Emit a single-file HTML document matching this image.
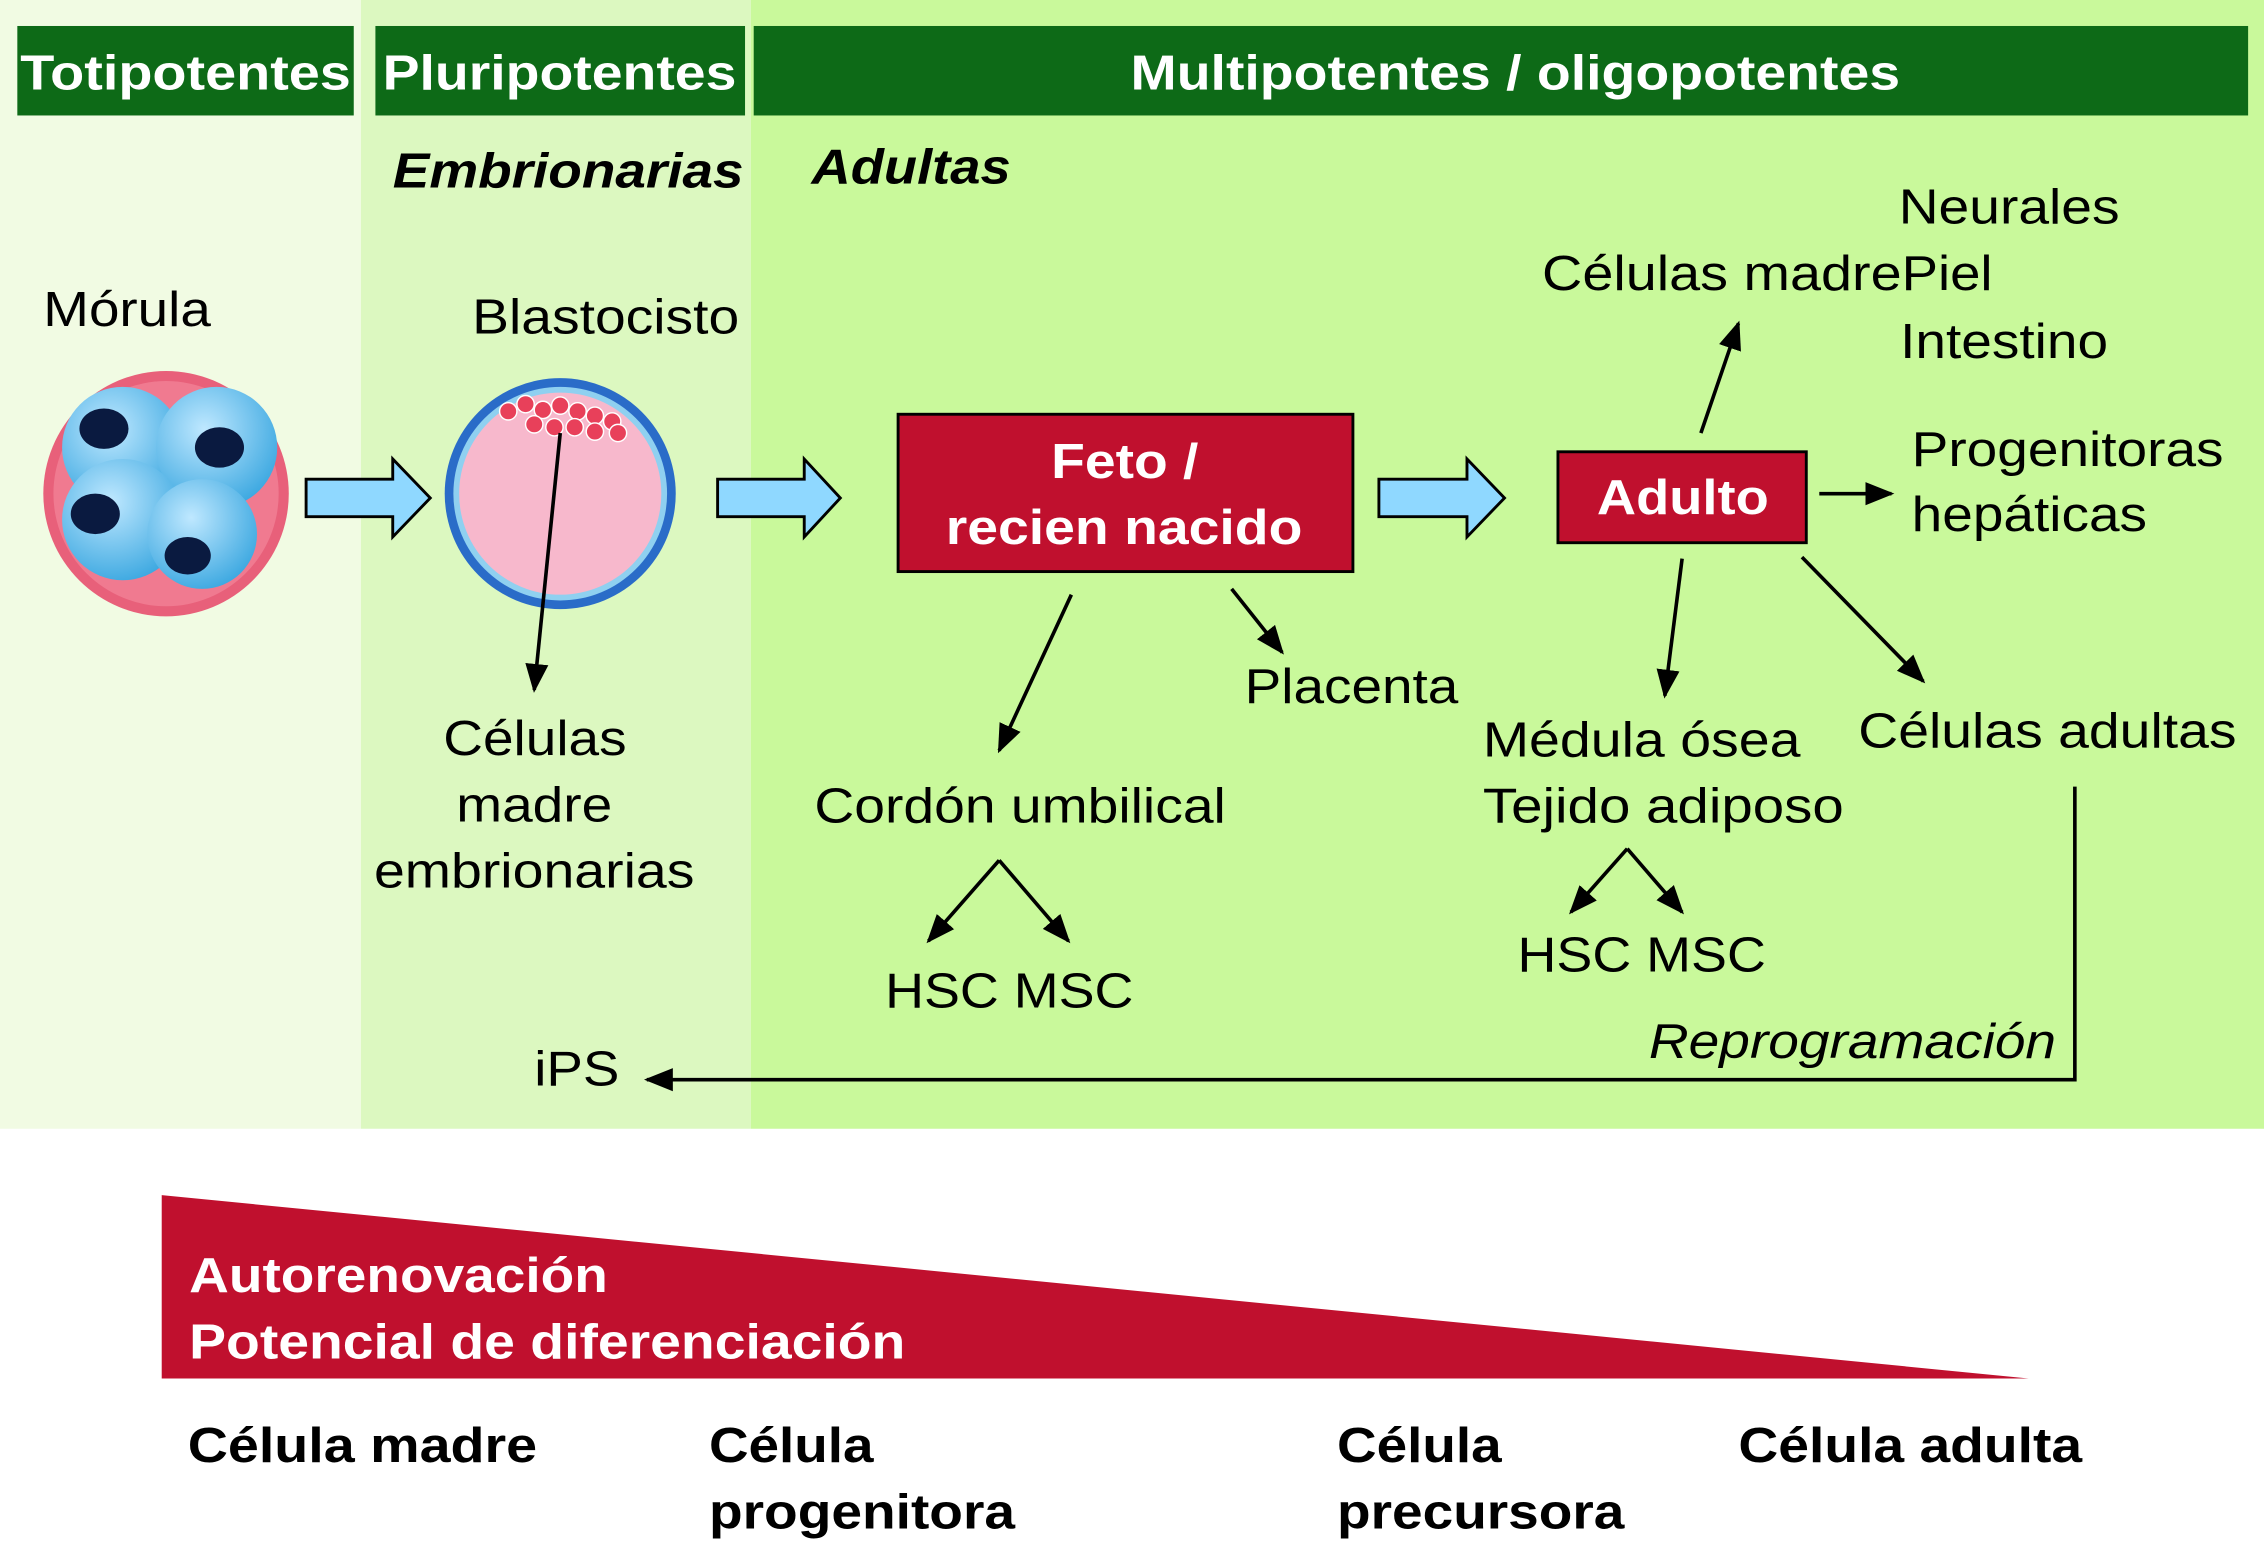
<!DOCTYPE html>
<html><head><meta charset="utf-8"><style>
html,body{margin:0;padding:0;background:#fff;}
svg{display:block;}
text{font-family:"Liberation Sans",Arial,sans-serif;}
</style></head><body>
<svg width="2264" height="1556" viewBox="0 0 1568 1078" preserveAspectRatio="none" xmlns="http://www.w3.org/2000/svg">
<defs>
<marker id="ah2" markerWidth="20" markerHeight="20" refX="18" refY="10" orient="auto" markerUnits="userSpaceOnUse" viewBox="0 0 20 20">
<path d="M0,2 L20,10 L0,18 z" fill="#000"/></marker>
<radialGradient id="cell" cx="40%" cy="35%" r="70%"><stop offset="0" stop-color="#bfe8ff"/><stop offset="1" stop-color="#3aa7e0"/></radialGradient>
</defs>
<rect x="0" y="0" width="250" height="782" fill="#f1fbe3"/>
<rect x="250" y="0" width="270" height="782" fill="#dcf8c0"/>
<rect x="520" y="0" width="1048" height="782" fill="#c9f99b"/>
<rect x="12" y="18" width="233" height="62" fill="#0d6a17"/>
<rect x="260" y="18" width="256" height="62" fill="#0d6a17"/>
<rect x="522" y="18" width="1035" height="62" fill="#0d6a17"/>
<g fill="#fff" font-weight="bold" font-size="34" lengthAdjust="spacingAndGlyphs">
<text x="14" y="62" textLength="229" lengthAdjust="spacingAndGlyphs">Totipotentes</text>
<text x="265" y="62" textLength="245" lengthAdjust="spacingAndGlyphs">Pluripotentes</text>
<text x="783" y="62" textLength="533" lengthAdjust="spacingAndGlyphs">Multipotentes / oligopotentes</text>
</g>
<g font-weight="bold" font-style="italic" font-size="34" fill="#000">
<text x="272" y="130" textLength="243" lengthAdjust="spacingAndGlyphs">Embrionarias</text>
<text x="562" y="127" textLength="138" lengthAdjust="spacingAndGlyphs">Adultas</text>
</g>
<g font-size="34" fill="#000">
<text x="30" y="226" textLength="116" lengthAdjust="spacingAndGlyphs">Mórula</text>
<text x="327" y="231" textLength="185" lengthAdjust="spacingAndGlyphs">Blastocisto</text>
<text x="307" y="523" textLength="127" lengthAdjust="spacingAndGlyphs">Células</text>
<text x="316" y="569" textLength="108" lengthAdjust="spacingAndGlyphs">madre</text>
<text x="259" y="615" textLength="222" lengthAdjust="spacingAndGlyphs">embrionarias</text>
<text x="862" y="487" textLength="148" lengthAdjust="spacingAndGlyphs">Placenta</text>
<text x="564" y="570" textLength="285" lengthAdjust="spacingAndGlyphs">Cordón umbilical</text>
<text x="613" y="698" textLength="172" lengthAdjust="spacingAndGlyphs">HSC MSC</text>
<text x="1068" y="201" textLength="249" lengthAdjust="spacingAndGlyphs">Células madre</text>
<text x="1315" y="155" textLength="153" lengthAdjust="spacingAndGlyphs">Neurales</text>
<text x="1317" y="201" textLength="63" lengthAdjust="spacingAndGlyphs">Piel</text>
<text x="1316" y="248" textLength="144" lengthAdjust="spacingAndGlyphs">Intestino</text>
<text x="1324" y="323" textLength="216" lengthAdjust="spacingAndGlyphs">Progenitoras</text>
<text x="1324" y="368" textLength="163" lengthAdjust="spacingAndGlyphs">hepáticas</text>
<text x="1027" y="524" textLength="220" lengthAdjust="spacingAndGlyphs">Médula ósea</text>
<text x="1027" y="570" textLength="250" lengthAdjust="spacingAndGlyphs">Tejido adiposo</text>
<text x="1287" y="518" textLength="262" lengthAdjust="spacingAndGlyphs">Células adultas</text>
<text x="1051" y="673" textLength="172" lengthAdjust="spacingAndGlyphs">HSC MSC</text>
<text x="370" y="752" textLength="59" lengthAdjust="spacingAndGlyphs">iPS</text>
<text x="1142" y="733" font-style="italic" textLength="282" lengthAdjust="spacingAndGlyphs">Reprogramación</text>
</g>
<!-- morula -->
<circle cx="115" cy="342" r="85" fill="#e8607a"/>
<circle cx="115" cy="342" r="78" fill="#f07a90"/>
<circle cx="85" cy="310" r="42" fill="url(#cell)"/>
<circle cx="150" cy="310" r="42" fill="url(#cell)"/>
<circle cx="85" cy="360" r="42" fill="url(#cell)"/>
<circle cx="140" cy="370" r="38" fill="url(#cell)"/>
<ellipse cx="72" cy="297" rx="17" ry="14" fill="#0a1a40"/>
<ellipse cx="152" cy="310" rx="17" ry="14" fill="#0a1a40"/>
<ellipse cx="66" cy="356" rx="17" ry="14" fill="#0a1a40"/>
<ellipse cx="130" cy="385" rx="16" ry="13" fill="#0a1a40"/>
<!-- blastocyst -->
<circle cx="388" cy="342" r="80" fill="#2a6cc8"/>
<circle cx="388" cy="342" r="74" fill="#8fd0f0"/>
<circle cx="388" cy="342" r="70" fill="#f7b8cc"/>
<g fill="#e8405a" stroke="#fff" stroke-width="1">
<circle cx="352" cy="285" r="6"/><circle cx="364" cy="280" r="6"/><circle cx="376" cy="284" r="6"/><circle cx="388" cy="281" r="6"/><circle cx="400" cy="285" r="6"/><circle cx="412" cy="288" r="6"/><circle cx="424" cy="292" r="6"/>
<circle cx="370" cy="294" r="6"/><circle cx="384" cy="296" r="6"/><circle cx="398" cy="296" r="6"/><circle cx="412" cy="299" r="6"/><circle cx="428" cy="300" r="6"/>
</g>
<!-- blue arrows -->
<g fill="#8fd8ff" stroke="#000" stroke-width="2">
<path d="M212,332 L272,332 L272,318 L298,345 L272,372 L272,358 L212,358 Z"/>
<path d="M497,332 L557,332 L557,318 L582,345 L557,372 L557,358 L497,358 Z"/>
<path d="M955,332 L1016,332 L1016,318 L1042,345 L1016,372 L1016,358 L955,358 Z"/>
</g>
<!-- boxes -->
<rect x="622" y="287" width="315" height="109" fill="#c0102e" stroke="#000" stroke-width="2"/>
<text x="728" y="331" fill="#fff" font-weight="bold" font-size="34" textLength="102" lengthAdjust="spacingAndGlyphs">Feto /</text>
<text x="655" y="377" fill="#fff" font-weight="bold" font-size="34" textLength="247" lengthAdjust="spacingAndGlyphs">recien nacido</text>
<rect x="1079" y="313" width="172" height="63" fill="#c0102e" stroke="#000" stroke-width="2"/>
<text x="1106" y="356" fill="#fff" font-weight="bold" font-size="34" textLength="119" lengthAdjust="spacingAndGlyphs">Adulto</text>
<!-- thin arrows -->
<g stroke="#000" stroke-width="2.5" fill="none" marker-end="url(#ah2)">
<line x1="388" y1="300" x2="370" y2="478"/>
<line x1="742" y1="412" x2="692" y2="520"/>
<line x1="853" y1="408" x2="888" y2="452"/>
<line x1="1178" y1="300" x2="1204" y2="224"/>
<line x1="1260" y1="342" x2="1310" y2="342"/>
<line x1="1165" y1="387" x2="1153" y2="482"/>
<line x1="1248" y1="386" x2="1332" y2="472"/>
<polyline points="692,596 643,652" />
<polyline points="692,596 740,652" />
<polyline points="1127,588 1088,632" />
<polyline points="1127,588 1165,632" />
<polyline points="1437,545 1437,748 448,748"/>
</g>
<!-- triangle -->
<polygon points="112,828 1405,955 112,955" fill="#c0102e"/>
<g fill="#fff" font-weight="bold" font-size="34">
<text x="131" y="895" textLength="290" lengthAdjust="spacingAndGlyphs">Autorenovación</text>
<text x="131" y="941" textLength="496" lengthAdjust="spacingAndGlyphs">Potencial de diferenciación</text>
</g>
<g fill="#000" font-weight="bold" font-size="34">
<text x="130" y="1013" textLength="242" lengthAdjust="spacingAndGlyphs">Célula madre</text>
<text x="491" y="1013" textLength="114" lengthAdjust="spacingAndGlyphs">Célula</text>
<text x="491" y="1059" textLength="212" lengthAdjust="spacingAndGlyphs">progenitora</text>
<text x="926" y="1013" textLength="114" lengthAdjust="spacingAndGlyphs">Célula</text>
<text x="926" y="1059" textLength="199" lengthAdjust="spacingAndGlyphs">precursora</text>
<text x="1204" y="1013" textLength="238" lengthAdjust="spacingAndGlyphs">Célula adulta</text>
</g>
</svg>
</body></html>
